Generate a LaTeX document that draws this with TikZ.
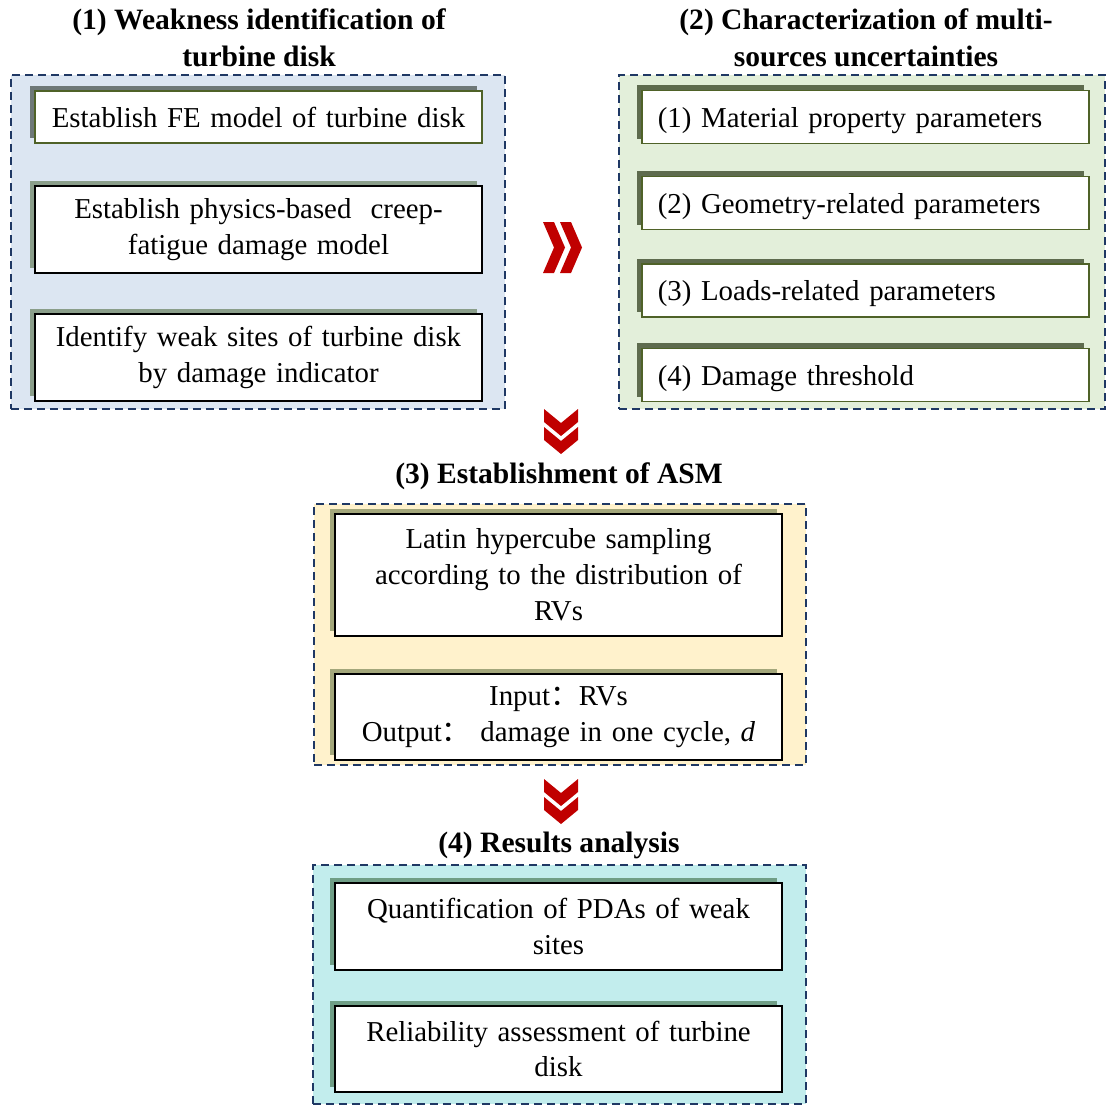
\documentclass[tikz,border=0pt]{standalone}
\usepackage{fontspec}
\setmainfont{Liberation Serif}
\newfontfamily\cjkfont{Noto Sans CJK SC}
\usetikzlibrary{shadows}
\definecolor{panelblue}{HTML}{DCE6F2}
\definecolor{panelgreen}{HTML}{E3EFDA}
\definecolor{panelyellow}{HTML}{FFF2CC}
\definecolor{panelcyan}{HTML}{C2EDED}
\definecolor{dashnavy}{HTML}{1F3864}
\definecolor{boxgreen}{HTML}{4F6228}
\definecolor{chevred}{HTML}{C00000}
\definecolor{shadegray}{HTML}{6E7878}
\definecolor{shadesage}{HTML}{8A9E8A}
\definecolor{shadeolive}{HTML}{5E6B4E}
\definecolor{shadekhaki}{HTML}{A3A77B}
\definecolor{shadeteal}{HTML}{6F9E86}

\begin{document}
\begin{tikzpicture}[
        x=0.01cm, y=-0.01cm,
        every node/.style={font=\fontsize{8.2pt}{10.2pt}\selectfont},
        panel/.style={draw=dashnavy, dash pattern=on 0.08cm off 0.05cm, line width=0.02cm, inner sep=0pt},
        heading/.style={font=\fontsize{8.4pt}{10.5pt}\selectfont\bfseries, align=center},
        taskbox/.style={draw, fill=white, line width=0.015cm, minimum width=4.47cm,
            text width=4.27cm, inner xsep=0.1cm, align=center,
            drop shadow={shadow xshift=-0.05cm, shadow yshift=0.05cm, opacity=1, fill=#1}},
        itembox/.style={taskbox=shadeolive, draw=boxgreen, minimum height=0.52cm,
            text width=4.15cm, inner xsep=0.16cm, align=left,
            text height=0.25cm, text depth=0.05cm}
    ]
    \useasboundingbox (0,0) rectangle (1107,1106);
    % panel (1)
    \node[heading] (weaktitle) at (259,38) {(1) Weakness identification of\\turbine disk};
    \node[panel, fill=panelblue, minimum width=4.94cm, minimum height=3.34cm] (weakpanel) at (258,242) {};
    \node[taskbox=shadegray, draw=boxgreen, minimum height=0.52cm] (w1) at (258.5,117) {Establish FE model of turbine disk};
    \node[taskbox=shadesage, minimum height=0.87cm] (w2) at (258.5,229.5) {Establish physics-based\ \ creep-\\fatigue damage model};
    \node[taskbox=shadesage, minimum height=0.87cm] (w3) at (258.5,357.5) {Identify weak sites of turbine disk\\by damage indicator};
    % panel (2)
    \node[heading] (unctitle) at (866,38) {(2) Characterization of multi-\\sources uncertainties};
    \node[panel, fill=panelgreen, minimum width=4.86cm, minimum height=3.34cm] (uncpanel) at (862,242) {};
    \node[itembox] (u1) at (865.5,117) {(1) Material property parameters};
    \node[itembox] (u2) at (865.5,203) {(2) Geometry-related parameters};
    \node[itembox] (u3) at (865.5,290.5) {(3) Loads-related parameters};
    \node[itembox] (u4) at (865.5,375) {(4) Damage threshold};
    % chevrons
    \fill[chevred] (543,222) -- ++(11,0) -- ++(11,25.5) -- ++(-11,25.5) -- ++(-11,0) -- ++(11,-25.5) -- cycle;
    \fill[chevred] (560,222) -- ++(11,0) -- ++(11,25.5) -- ++(-11,25.5) -- ++(-11,0) -- ++(11,-25.5) -- cycle;
    \fill[chevred] (544,409) -- ++(17,14) -- ++(17,-14) -- ++(0,13) -- ++(-17,14) -- ++(-17,-14) -- cycle;
    \fill[chevred] (544,427) -- ++(17,14) -- ++(17,-14) -- ++(0,13) -- ++(-17,14) -- ++(-17,-14) -- cycle;
    % panel (3)
    \node[heading] (asmtitle) at (559,476) {(3) Establishment of ASM};
    \node[panel, fill=panelyellow, minimum width=4.92cm, minimum height=2.61cm] (asmpanel) at (560,634.5) {};
    \node[taskbox=shadekhaki, minimum height=1.22cm] (a1) at (558.5,575) {Latin hypercube sampling\\according to the distribution of\\RVs};
    \node[taskbox=shadekhaki, minimum height=0.86cm] (a2) at (558.5,717) {Input{\cjkfont ：}RVs\\Output{\cjkfont ：} damage in one cycle, \textit{d}};
    \fill[chevred] (544,779) -- ++(17,14) -- ++(17,-14) -- ++(0,13) -- ++(-17,14) -- ++(-17,-14) -- cycle;
    \fill[chevred] (544,797) -- ++(17,14) -- ++(17,-14) -- ++(0,13) -- ++(-17,14) -- ++(-17,-14) -- cycle;
    % panel (4)
    \node[heading] (restitle) at (559,845) {(4) Results analysis};
    \node[panel, fill=panelcyan, minimum width=4.93cm, minimum height=2.39cm] (respanel) at (559.5,984.5) {};
    \node[taskbox=shadeteal, minimum height=0.87cm] (r1) at (558.5,926.5) {Quantification of PDAs of weak\\sites};
    \node[taskbox=shadeteal, minimum height=0.86cm] (r2) at (558.5,1049) {Reliability assessment of turbine\\disk};
\end{tikzpicture}
\end{document}
